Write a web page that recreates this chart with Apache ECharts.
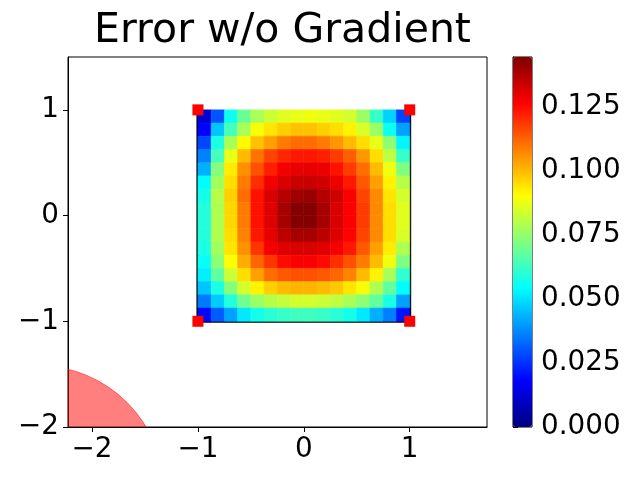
<!DOCTYPE html>
<html>
<head>
<meta charset="utf-8">
<script src="https://cdn.jsdelivr.net/npm/echarts@6/dist/echarts.min.js"></script>
<style>
  html, body { margin: 0; padding: 0; background: #fff; }
  #chart { width: 640px; height: 480px; }
</style>
</head>
<body>
<div id="chart"></div>
<script>
// cell centres of the error field (x left->right, y top->bottom)
var cellX = [-0.9375, -0.8125, -0.6875, -0.5625, -0.4375, -0.3125, -0.1875, -0.0625,
             0.0625, 0.1875, 0.3125, 0.4375, 0.5625, 0.6875, 0.8125, 0.9375];
var cellY = [0.9375, 0.8125, 0.6875, 0.5625, 0.4375, 0.3125, 0.1875, 0.0625,
             -0.0625, -0.1875, -0.3125, -0.4375, -0.5625, -0.6875, -0.8125, -0.9375];
var cellSize = 0.125;

// error values, one row per cellY
var errorRows = [
  [0.012, 0.030, 0.056, 0.069, 0.078, 0.083, 0.086, 0.087, 0.088, 0.087, 0.086, 0.084, 0.076, 0.062, 0.048, 0.028],
  [0.018, 0.046, 0.064, 0.078, 0.089, 0.094, 0.097, 0.099, 0.099, 0.097, 0.095, 0.092, 0.085, 0.076, 0.056, 0.041],
  [0.028, 0.058, 0.078, 0.091, 0.099, 0.104, 0.109, 0.111, 0.111, 0.109, 0.105, 0.100, 0.095, 0.087, 0.074, 0.053],
  [0.036, 0.064, 0.087, 0.100, 0.110, 0.117, 0.121, 0.123, 0.123, 0.122, 0.118, 0.113, 0.105, 0.095, 0.081, 0.062],
  [0.043, 0.073, 0.093, 0.106, 0.115, 0.122, 0.128, 0.130, 0.130, 0.129, 0.124, 0.118, 0.111, 0.100, 0.088, 0.072],
  [0.054, 0.077, 0.095, 0.109, 0.120, 0.128, 0.132, 0.134, 0.134, 0.133, 0.129, 0.123, 0.114, 0.104, 0.092, 0.080],
  [0.057, 0.080, 0.097, 0.111, 0.124, 0.132, 0.137, 0.140, 0.141, 0.137, 0.133, 0.127, 0.117, 0.107, 0.094, 0.084],
  [0.059, 0.079, 0.096, 0.109, 0.124, 0.131, 0.139, 0.144, 0.144, 0.139, 0.132, 0.127, 0.118, 0.107, 0.095, 0.086],
  [0.059, 0.079, 0.096, 0.109, 0.124, 0.131, 0.139, 0.144, 0.144, 0.139, 0.132, 0.127, 0.118, 0.107, 0.095, 0.086],
  [0.059, 0.079, 0.095, 0.108, 0.123, 0.130, 0.136, 0.139, 0.139, 0.136, 0.131, 0.126, 0.117, 0.107, 0.095, 0.085],
  [0.058, 0.077, 0.094, 0.106, 0.119, 0.128, 0.131, 0.132, 0.132, 0.131, 0.128, 0.123, 0.114, 0.104, 0.093, 0.079],
  [0.055, 0.074, 0.090, 0.102, 0.112, 0.119, 0.125, 0.127, 0.127, 0.125, 0.120, 0.115, 0.109, 0.100, 0.088, 0.072],
  [0.052, 0.068, 0.083, 0.095, 0.104, 0.111, 0.114, 0.115, 0.115, 0.114, 0.112, 0.108, 0.100, 0.092, 0.078, 0.061],
  [0.046, 0.058, 0.073, 0.084, 0.092, 0.097, 0.100, 0.101, 0.101, 0.100, 0.098, 0.094, 0.089, 0.079, 0.068, 0.054],
  [0.035, 0.047, 0.059, 0.070, 0.076, 0.080, 0.082, 0.084, 0.084, 0.083, 0.081, 0.078, 0.074, 0.068, 0.058, 0.041],
  [0.019, 0.031, 0.041, 0.051, 0.057, 0.060, 0.062, 0.063, 0.063, 0.062, 0.060, 0.057, 0.051, 0.043, 0.036, 0.021]
];

// corner sample points
var cornerX = [-1, 1, -1, 1];
var cornerY = [1, 1, -1, -1];

// outline of the square (left, bottom, right sides)
var outlineX = [-1, -1, 1, 1];
var outlineY = [1, -1, -1, 1];

// shaded circle in the lower left
var circleCenter = [-2.51, -2.61];
var circleRadius = 1.19;

var xTicks = [-2, -1, 0, 1];
var yTicks = [-2, -1, 0, 1];
var colorTicks = [0, 0.025, 0.05, 0.075, 0.1, 0.125];
var errorMax = 0.1445;

var jet = ['#00007f', '#0000ff', '#0080ff', '#00ffff', '#80ff80', '#ffff00', '#ff8000', '#ff0000', '#800000'];

var chart = echarts.init(document.getElementById('chart'));

var FONT = 'DejaVu Sans';
var LABEL_SIZE = 27.8;

function minusFmt(v) {
  return v < 0 ? '\u2212' + (-v) : String(v);
}

var cells = [];
for (var i = 0; i < cellY.length; i++) {
  for (var j = 0; j < cellX.length; j++) {
    cells.push([cellX[j], cellY[i], errorRows[i][j]]);
  }
}

var cornerData = [];
for (var k = 0; k < cornerX.length; k++) cornerData.push([cornerX[k], cornerY[k]]);
var outlineData = [];
for (var k2 = 0; k2 < outlineX.length; k2++) outlineData.push([outlineX[k2], outlineY[k2]]);

var option = {
  animation: false,
  backgroundColor: '#fff',
  title: {
    text: 'Error w/o Gradient',
    left: 277.5,
    textAlign: 'center',
    top: 6,
    textStyle: { fontFamily: FONT, fontSize: 41, fontWeight: 'normal', color: '#000' }
  },
  grid: [
    { left: 68, top: 57, width: 419, height: 370, show: true, borderColor: '#000', borderWidth: 1, backgroundColor: 'transparent' },
    { left: 513, top: 57, width: 19, height: 370, show: true, borderColor: '#000', borderWidth: 1, backgroundColor: 'transparent' }
  ],
  xAxis: [
    {
      type: 'value', gridIndex: 0, min: -2.227, max: 1.73,
      splitLine: { show: false },
      axisLine: { onZero: false, lineStyle: { color: '#000', width: 1 } },
      axisTick: { length: 5, lineStyle: { color: '#000' }, customValues: xTicks },
      axisLabel: { customValues: xTicks, formatter: minusFmt, color: '#000', fontFamily: FONT, fontSize: LABEL_SIZE, margin: 9 }
    },
    { type: 'value', gridIndex: 1, min: 0, max: 1, show: false }
  ],
  yAxis: [
    {
      type: 'value', gridIndex: 0, min: -2, max: 1.5,
      splitLine: { show: false },
      axisLine: { onZero: false, lineStyle: { color: '#000', width: 1 } },
      axisTick: { length: 5, lineStyle: { color: '#000' }, customValues: yTicks },
      axisLabel: { customValues: yTicks, formatter: minusFmt, color: '#000', fontFamily: FONT, fontSize: LABEL_SIZE, margin: 9 }
    },
    {
      type: 'value', gridIndex: 1, min: 0, max: errorMax, position: 'right',
      splitLine: { show: false },
      axisLine: { show: true, lineStyle: { color: '#000', width: 1 } },
      axisTick: { length: 5, lineStyle: { color: '#000' }, customValues: colorTicks },
      axisLabel: {
        customValues: colorTicks, color: '#000', fontFamily: FONT, fontSize: LABEL_SIZE, margin: 9,
        formatter: function (v) { return v.toFixed(3); }
      }
    }
  ],
  visualMap: {
    type: 'continuous',
    min: 0, max: errorMax,
    seriesIndex: 1,
    dimension: 2,
    calculable: false,
    left: 513, top: 57,
    itemWidth: 19, itemHeight: 370,
    padding: 0,
    text: null,
    showLabel: false,
    hoverLink: false,
    inRange: { color: jet }
  },
  series: [
    {
      // red circle
      type: 'custom',
      xAxisIndex: 0, yAxisIndex: 0,
      z: 1,
      clip: true,
      data: [[circleCenter[0], circleCenter[1], circleRadius]],
      renderItem: function (params, api) {
        var c = api.coord([api.value(0), api.value(1)]);
        var r = api.size([api.value(2), api.value(2)]);
        var cs = params.coordSys;
        return {
          type: 'circle',
          shape: { cx: c[0], cy: c[1], r: (r[0] + r[1]) / 2 },
          style: { fill: 'rgba(255,0,0,0.5)', stroke: 'rgba(255,0,0,0.5)', lineWidth: 1 },
          clipPath: { type: 'rect', shape: { x: cs.x, y: cs.y, width: cs.width, height: cs.height } }
        };
      }
    },
    {
      // error field
      type: 'custom',
      xAxisIndex: 0, yAxisIndex: 0,
      z: 3,
      data: cells,
      renderItem: function (params, api) {
        var x = api.value(0), y = api.value(1);
        var p = api.coord([x - cellSize / 2, y + cellSize / 2]);
        var s = api.size([cellSize, cellSize]);
        var col = api.visual('color');
        return {
          type: 'rect',
          shape: { x: p[0], y: p[1], width: s[0], height: s[1] },
          style: { fill: col, stroke: col, lineWidth: 0.6 }
        };
      }
    },
    {
      type: 'line',
      xAxisIndex: 0, yAxisIndex: 0,
      z: 2,
      data: outlineData,
      symbol: 'none',
      lineStyle: { color: '#000', width: 3 }
    },
    {
      type: 'scatter',
      xAxisIndex: 0, yAxisIndex: 0,
      z: 5,
      data: cornerData,
      symbol: 'rect',
      symbolSize: 11,
      itemStyle: { color: '#ff0000', opacity: 1 }
    }
  ]
};

chart.setOption(option);
</script>
</body>
</html>
